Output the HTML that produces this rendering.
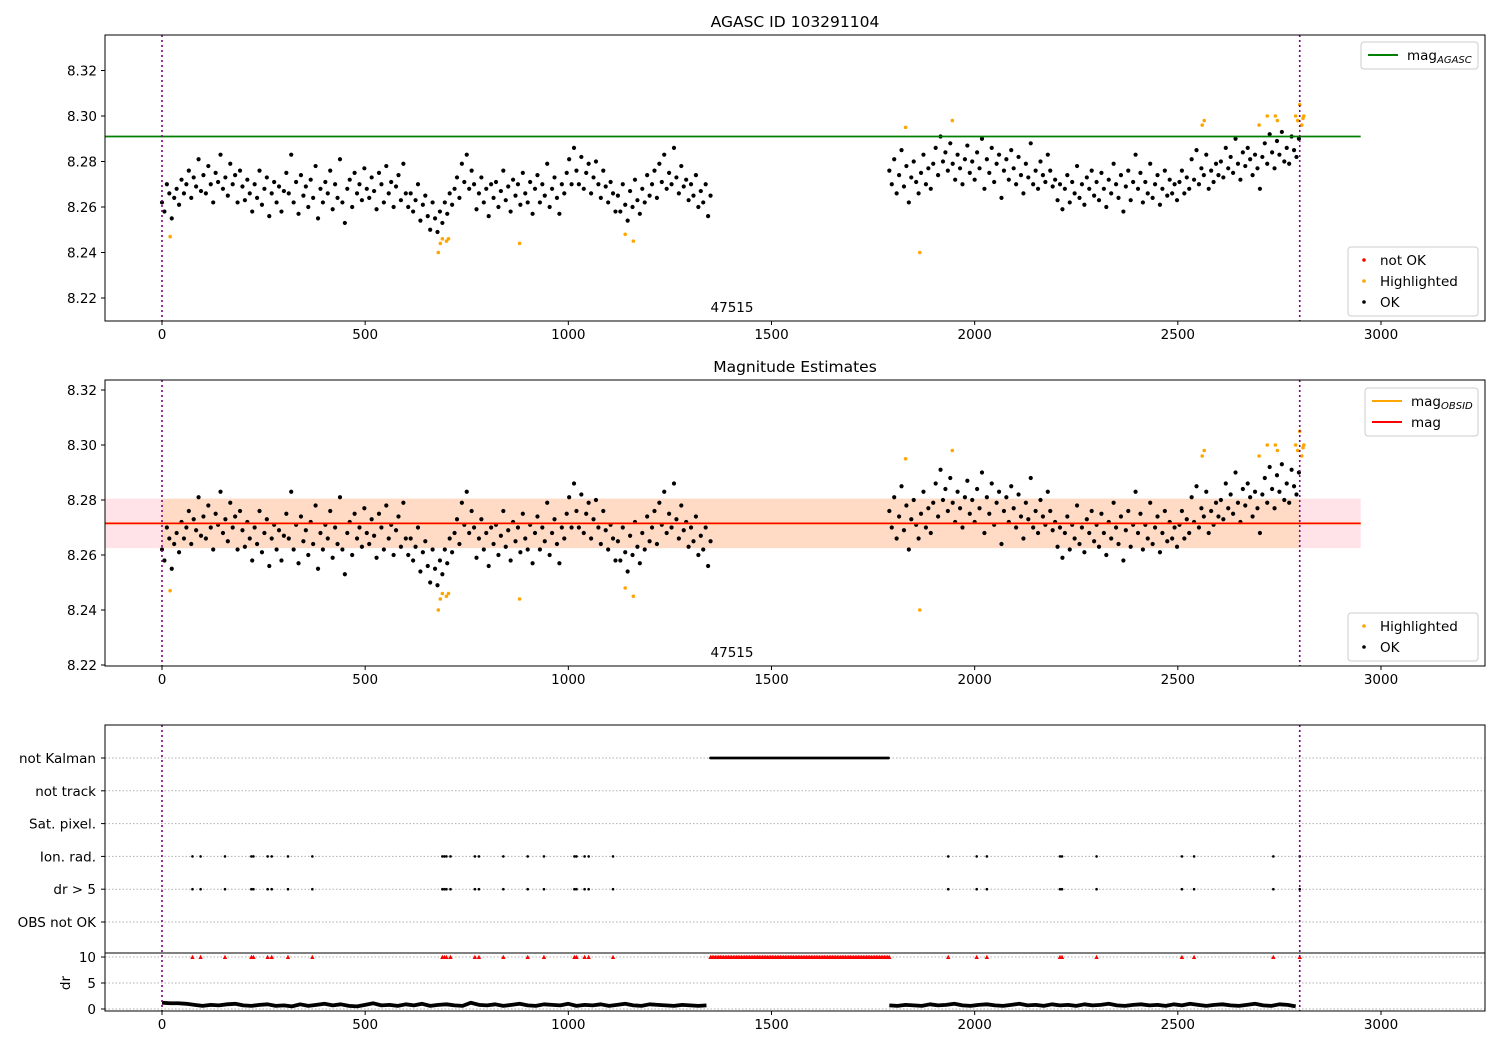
<!DOCTYPE html>
<html><head><meta charset="utf-8"><style>
body{margin:0;background:#fff}
svg{display:block;font-family:"DejaVu Sans","Liberation Sans",sans-serif}
</style></head><body>
<svg id="c" width="1500" height="1050" xmlns="http://www.w3.org/2000/svg"></svg>
<script>
const seg1Start=0, seg2Start=1790, stepX=6;
const seg1Mags=[8.262,8.258,8.270,8.266,8.255,8.264,8.268,8.261,8.272,8.266,8.270,8.276,8.264,8.273,8.269,8.281,8.267,
8.274,8.266,8.278,8.270,8.262,8.275,8.271,8.283,8.268,8.273,8.265,8.279,8.270,8.274,8.262,8.276,8.269,
8.263,8.272,8.266,8.258,8.270,8.264,8.276,8.261,8.268,8.273,8.256,8.266,8.271,8.262,8.269,8.258,8.267,
8.275,8.266,8.283,8.262,8.271,8.257,8.274,8.265,8.269,8.260,8.272,8.264,8.278,8.255,8.268,8.262,8.271,
8.266,8.276,8.259,8.270,8.264,8.281,8.262,8.253,8.268,8.272,8.260,8.275,8.266,8.270,8.263,8.277,8.268,
8.264,8.273,8.267,8.259,8.275,8.270,8.262,8.278,8.266,8.271,8.260,8.269,8.274,8.263,8.279,8.266,8.260,
8.266,8.258,8.263,8.270,8.254,8.261,8.265,8.256,8.250,8.262,8.255,8.249,8.258,8.253,8.262,8.257,8.266,
8.261,8.268,8.273,8.264,8.279,8.271,8.283,8.268,8.276,8.270,8.259,8.266,8.273,8.262,8.268,8.256,8.270,
8.264,8.271,8.260,8.267,8.276,8.263,8.269,8.258,8.272,8.265,8.270,8.261,8.275,8.266,8.262,8.271,8.257,
8.268,8.274,8.262,8.270,8.265,8.279,8.260,8.268,8.273,8.264,8.257,8.270,8.266,8.275,8.281,8.270,8.286,
8.276,8.270,8.282,8.268,8.275,8.279,8.266,8.273,8.280,8.270,8.264,8.276,8.269,8.262,8.271,8.266,8.258,
8.265,8.258,8.270,8.261,8.254,8.267,8.260,8.272,8.263,8.257,8.268,8.262,8.274,8.265,8.270,8.276,8.264,
8.279,8.271,8.283,8.268,8.275,8.270,8.286,8.273,8.266,8.278,8.269,8.272,8.263,8.270,8.265,8.274,8.260,
8.267,8.262,8.270,8.256,8.265];
const seg2Mags=[8.276,8.270,8.281,8.266,8.274,8.285,8.269,8.278,8.262,8.273,8.280,8.271,8.266,8.275,8.283,8.270,8.277,
8.268,8.279,8.286,8.274,8.291,8.280,8.284,8.276,8.288,8.279,8.272,8.283,8.277,8.270,8.281,8.287,8.275,
8.280,8.272,8.284,8.277,8.290,8.268,8.281,8.275,8.286,8.271,8.279,8.283,8.264,8.276,8.281,8.272,8.285,
8.277,8.270,8.282,8.274,8.266,8.279,8.273,8.288,8.270,8.276,8.268,8.280,8.274,8.271,8.283,8.276,8.269,
8.272,8.263,8.270,8.259,8.268,8.274,8.262,8.271,8.266,8.278,8.264,8.270,8.261,8.273,8.268,8.276,8.265,
8.271,8.263,8.275,8.268,8.260,8.272,8.266,8.279,8.270,8.264,8.274,8.258,8.269,8.276,8.263,8.271,8.283,
8.268,8.275,8.262,8.271,8.266,8.279,8.264,8.270,8.274,8.261,8.268,8.276,8.265,8.272,8.266,8.270,8.263,
8.271,8.276,8.266,8.273,8.268,8.281,8.272,8.285,8.270,8.277,8.274,8.283,8.268,8.276,8.271,8.279,8.274,
8.280,8.273,8.286,8.277,8.282,8.275,8.290,8.279,8.272,8.284,8.278,8.286,8.281,8.274,8.283,8.277,8.268,
8.282,8.288,8.279,8.292,8.284,8.277,8.289,8.283,8.293,8.280,8.286,8.279,8.291,8.285,8.282,8.290];
const hlX=[20,680,685,690,700,705,880,1140,1160,1830,1865,1945,2560,2565,2700,2720,2740,2745,2790,2795,2800,2805,2808,2810];
const hlMag=[8.247,8.240,8.244,8.246,8.245,8.246,8.244,8.248,8.245,8.295,8.240,8.298,8.296,8.298,8.296,8.300,8.300,8.298,8.300,8.298,8.305,8.296,8.299,8.300];
const magAgasc=8.291, magObs=8.2715, magLo=8.2625, magHi=8.2805;
const flagX=[75,95,155,220,225,260,270,310,370,690,695,700,710,770,780,840,900,940,1015,1020,1040,1050,1110,1935,2005,2030,2210,2215,2300,2510,2540,2735,2800];
const kalmanRange=[1350,1790];
const drStep=20;
const dr1=[1.2,1.1,1.1,1.0,0.8,0.6,0.8,0.7,0.9,1.0,0.7,0.6,0.8,0.9,0.6,0.7,0.5,0.9,0.6,0.8,1.0,0.7,0.9,0.6,0.5,0.8,1.1,0.7,0.8,0.6,0.9,0.7,1.0,0.6,0.8,0.9,0.7,0.6,1.2,0.8,0.7,0.9,0.6,0.8,1.0,0.7,0.6,0.9,0.8,0.7,1.0,0.6,0.8,0.7,0.9,0.6,0.8,1.0,0.7,0.6,0.9,0.8,0.7,0.6,0.8,0.7,0.6,0.7];
const dr2=[0.7,0.6,0.8,0.7,0.6,0.9,0.7,0.8,1.0,0.7,0.6,0.8,0.9,0.7,0.6,0.8,1.0,0.7,0.8,0.6,0.9,0.7,0.8,0.6,0.9,0.7,0.8,1.0,0.7,0.6,0.8,0.9,0.7,0.8,0.6,0.9,0.7,1.0,0.8,0.6,0.8,0.9,0.7,0.6,0.8,1.0,0.7,0.6,0.9,0.8,0.5];
const flagCats=["not Kalman","not track","Sat. pixel.","Ion. rad.","dr > 5","OBS not OK"];
const xTicks=[0,500,1000,1500,2000,2500,3000];
const magTicks=[8.22,8.24,8.26,8.28,8.30,8.32];
const drTicks=[0,5,10];

const S=document.getElementById('c'),NS='http://www.w3.org/2000/svg';
const FS=13.5;
function el(t,a,p){const e=document.createElementNS(NS,t);for(const k in a)e.setAttribute(k,a[k]);(p||S).appendChild(e);return e;}
function txt(s,a,p){const e=el('text',a,p);e.textContent=s;return e;}
const L=105,R=1485;
const X=v=>162+v*(1381-162)/3000;
const pnl=[{top:35,bot:321,y:m=>298-(m-8.22)*2275},{top:380,bot:666,y:m=>665-(m-8.22)*2750}];
const allX=[],allM=[];
seg1Mags.forEach((m,i)=>{allX.push(seg1Start+i*stepX);allM.push(m);});
seg2Mags.forEach((m,i)=>{allX.push(seg2Start+i*stepX);allM.push(m);});

function xaxis(bot,g){xTicks.forEach(t=>{el('line',{x1:X(t),x2:X(t),y1:bot,y2:bot+4,stroke:'#000'},g);
 const e=txt(String(t),{x:X(t),y:bot+18,'font-size':FS,'text-anchor':'middle'},g);});}
function vlines(top,bot,g){[0,2800].forEach(v=>el('line',{x1:X(v),x2:X(v),y1:top,y2:bot,stroke:'purple','stroke-width':1.6,'stroke-dasharray':'2,3'},g));}

pnl.forEach((P,pi)=>{
 const g=el('g',{});
 if(pi==1){
  el('rect',{x:L,y:P.y(magHi),width:X(2950)-L,height:P.y(magLo)-P.y(magHi),fill:'#ffc0cb',opacity:0.45},g);
  el('rect',{x:X(0),y:P.y(magHi),width:X(2800)-X(0),height:P.y(magLo)-P.y(magHi),fill:'#ffa500',opacity:0.15},g);
 }
 allX.forEach((x,i)=>{const c=el('circle',{cx:X(x),cy:P.y(allM[i]),r:2.1,fill:'#000'},g);});
 hlX.forEach((x,i)=>{const c=el('circle',{cx:X(x),cy:P.y(hlMag[i]),r:1.8,fill:'orange'},g);});
 if(pi==0) el('line',{x1:L,x2:X(2950),y1:P.y(magAgasc),y2:P.y(magAgasc),stroke:'green','stroke-width':1.8},g);
 else{el('line',{x1:L,x2:X(2950),y1:P.y(magObs),y2:P.y(magObs),stroke:'orange','stroke-width':2},g);
  el('line',{x1:L,x2:X(2950),y1:P.y(magObs),y2:P.y(magObs),stroke:'red','stroke-width':1.6},g);}
 vlines(P.top,P.bot,g);
 el('rect',{x:L,y:P.top,width:R-L,height:P.bot-P.top,fill:'none',stroke:'#000','stroke-width':1},g);
 magTicks.forEach(t=>{const y=P.y(t);if(y<P.top||y>P.bot)return;el('line',{x1:L-4,x2:L,y1:y,y2:y,stroke:'#000'},g);
  const e=txt(t.toFixed(2),{x:L-8,y:y+5,'font-size':FS,'text-anchor':'end'},g);});
 xaxis(P.bot,g);
 const e=txt('47515',{x:732,y:P.bot-9,'font-size':FS,'text-anchor':'middle'},g);
});
let t1=txt('AGASC ID 103291104',{x:795,y:27,'font-size':15.5,'text-anchor':'middle'});
let t2=txt('Magnitude Estimates',{x:795,y:372,'font-size':15.5,'text-anchor':'middle'});

function legend(x,y,w,items,name){const g=el('g',{});
 el('rect',{x:x,y:y,width:w,height:items.length*21+6,rx:3,fill:'#fff',stroke:'#ccc'},g);
 items.forEach((it,i)=>{const cy=y+13+i*21;
  if(it.line)el('line',{x1:x+7,x2:x+37,y1:cy,y2:cy,stroke:it.c,'stroke-width':2},g);
  else el('circle',{cx:x+16,cy:cy,r:1.8,fill:it.c},g);
  const e=txt(it.t,{x:it.line?x+46:x+32,y:cy+5,'font-size':FS},g);
  if(it.sub){const s=el('tspan',{'font-size':10,'font-style':'italic',dy:3},e);s.textContent=it.sub;}
 });}
legend(1361,42,117,[{c:'green',line:1,t:'mag',sub:'AGASC'}],'legend-agasc');
legend(1348,247,130,[{c:'red',t:'not OK'},{c:'orange',t:'Highlighted'},{c:'#000',t:'OK'}],'legend-points-top');
legend(1365,388,113,[{c:'orange',line:1,t:'mag',sub:'OBSID'},{c:'red',line:1,t:'mag'}],'legend-mag');
legend(1348,613,130,[{c:'orange',t:'Highlighted'},{c:'#000',t:'OK'}],'legend-points-mid');

// flags panel
const ft=725,fb=953,db=1011;
const catY=i=>758+i*32.8;
const DY=v=>1009-v*5.2;
const g3=el('g',{});
flagCats.forEach((c,i)=>{el('line',{x1:L,x2:R,y1:catY(i),y2:catY(i),stroke:'#b0b0b0','stroke-dasharray':'1.5,2'},g3);
 el('line',{x1:L-4,x2:L,y1:catY(i),y2:catY(i),stroke:'#000'},g3);
 const e=txt(c,{x:L-9,y:catY(i)+5,'font-size':FS,'text-anchor':'end'},g3);});
for(let x=kalmanRange[0];x<=kalmanRange[1];x+=3){const c=el('circle',{cx:X(x),cy:catY(0),r:1.4,fill:'#000'},g3);}
flagX.forEach(x=>{[3,4].forEach(i=>{const c=el('circle',{cx:X(x),cy:catY(i),r:1.3,fill:'#000'},g3);});});
drTicks.forEach(t=>{el('line',{x1:L,x2:R,y1:DY(t),y2:DY(t),stroke:'#b0b0b0','stroke-dasharray':'1.5,2'},g3);
 el('line',{x1:L-4,x2:L,y1:DY(t),y2:DY(t),stroke:'#000'},g3);
 const e=txt(String(t),{x:L-9,y:DY(t)+5,'font-size':FS,'text-anchor':'end'},g3);});
const tri=(x,y)=>{const p=el('path',{d:`M${x-2.2},${y+2}L${x+2.2},${y+2}L${x},${y-2.2}Z`,fill:'red'},g3);};
flagX.forEach(x=>tri(X(x),DY(10)));
for(let x=kalmanRange[0];x<=kalmanRange[1];x+=4)tri(X(x),DY(10));
function drLine(arr,start,name){const pts=arr.map((v,i)=>X(start+i*drStep)+','+DY(v)).join(' ');const p=el('polyline',{points:pts,fill:'none',stroke:'#000','stroke-width':3.8,'stroke-linejoin':'round'},g3);}
drLine(dr1,0,'dr-line-1');drLine(dr2,seg2Start,'dr-line-2');
vlines(ft,db,g3);
el('rect',{x:L,y:ft,width:R-L,height:db-ft,fill:'none',stroke:'#000'},g3);
el('line',{x1:L,x2:R,y1:fb,y2:fb,stroke:'#000'},g3);
let dl=txt('dr',{x:70,y:983,'font-size':FS,'text-anchor':'middle',transform:'rotate(-90 70 983)'},g3);
xaxis(db,g3);
</script>
</body></html>
